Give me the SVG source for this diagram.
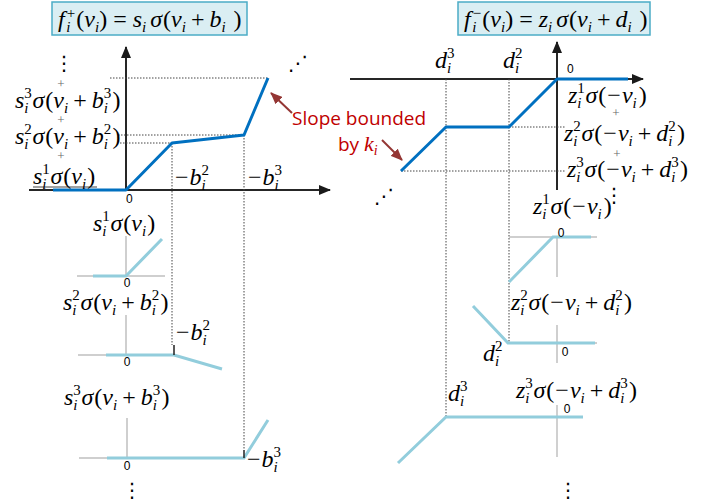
<svg xmlns="http://www.w3.org/2000/svg" width="710" height="504" viewBox="0 0 710 504">
<defs>
<marker id="ax" viewBox="0 0 12 10" refX="11" refY="5" markerWidth="12" markerHeight="10" markerUnits="userSpaceOnUse" orient="auto"><path d="M0,0 L12,5 L0,10 z" fill="#1a1a1a"/></marker>
<marker id="ar" viewBox="0 0 12 10" refX="11" refY="5" markerWidth="12" markerHeight="10" markerUnits="userSpaceOnUse" orient="auto"><path d="M0,0 L12,5 L0,10 z" fill="#943634"/></marker>
<style>
.m{font-family:"Liberation Serif","Times New Roman",serif;font-size:24px;fill:#000}
.i{font-style:italic}
.s{font-size:15px}
.pl{font-family:"Liberation Serif",serif;font-size:13px;fill:#666}
.z{font-family:"Liberation Sans",Arial,sans-serif;font-size:12px;fill:#000}
.dots{font-family:"DejaVu Sans",sans-serif;font-size:20px;fill:#000}
.axis{stroke:#262626;stroke-width:2;fill:none}
.dot{stroke:#444;stroke-width:1;stroke-dasharray:1.5 1.5;fill:none}
.main{stroke:#0070C0;stroke-width:3;fill:none;stroke-linejoin:round}
.lb{stroke:#92CDDC;stroke-width:3;fill:none}
.ga{stroke:#C0C0C0;stroke-width:1.5;fill:none}
.tk{stroke:#222;stroke-width:1.5}
.box{fill:#DAEEF3;stroke:#4BACC6;stroke-width:1.5}
.red{font-family:"Open Sans","Liberation Sans",sans-serif;font-size:19px;fill:#C00000}
.rarr{stroke:#943634;stroke-width:2;fill:none}
</style>
</defs>

<g id="connectors">
<line class="axis" x1="126" y1="190" x2="126" y2="47" marker-end="url(#ax)"/>
<line class="axis" x1="29" y1="190" x2="330" y2="190" marker-end="url(#ax)"/>
<line class="axis" x1="557" y1="190" x2="557" y2="42" marker-end="url(#ax)"/>
<line class="axis" x1="350" y1="79" x2="643" y2="79" marker-end="url(#ax)"/>
<path class="dot" d="M110,78 H268 M118,135 H244 M120,143 H172 M172,143 V345 M244,135 V450"/>
<path class="dot" d="M509,127 H566 M401,171 H566 M446,79 V417 M509,79 V343"/>
<line class="rarr" x1="292" y1="113" x2="271" y2="93" marker-end="url(#ar)"/>
<line class="rarr" x1="382" y1="140" x2="402" y2="160" marker-end="url(#ar)"/>
<line x1="33" y1="187" x2="97" y2="187" stroke="#444" stroke-width="1"/>
</g>

<g id="title-plus">
<rect class="box" x="52" y="2" width="195" height="33"/>
<text class="m" x="58" y="27" font-size="22"><tspan class="i">f</tspan><tspan class="s" dx="2" dy="-9">+</tspan><tspan class="s i" dx="-9" dy="14">i</tspan><tspan dx="6" dy="-5">(</tspan><tspan class="i">v</tspan><tspan class="s i" dy="5">i</tspan><tspan dy="-5">)</tspan><tspan dx="6">=</tspan><tspan class="i" dx="6">s</tspan><tspan class="s i" dy="5">i</tspan><tspan class="i" dx="4" dy="-5">σ</tspan><tspan dx="1">(</tspan><tspan class="i">v</tspan><tspan class="s i" dy="5">i</tspan><tspan dx="5" dy="-5">+</tspan><tspan class="i" dx="5">b</tspan><tspan class="s i" dy="5">i</tspan><tspan dx="8" dy="-5">)</tspan></text>
</g>

<g id="title-minus">
<rect class="box" x="458" y="2" width="192" height="33"/>
<text class="m" x="464" y="27" font-size="22"><tspan class="i">f</tspan><tspan class="s" dx="2" dy="-9">−</tspan><tspan class="s i" dx="-9" dy="14">i</tspan><tspan dx="6" dy="-5">(</tspan><tspan class="i">v</tspan><tspan class="s i" dy="5">i</tspan><tspan dy="-5">)</tspan><tspan dx="6">=</tspan><tspan class="i" dx="6">z</tspan><tspan class="s i" dy="5">i</tspan><tspan class="i" dx="4" dy="-5">σ</tspan><tspan dx="1">(</tspan><tspan class="i">v</tspan><tspan class="s i" dy="5">i</tspan><tspan dx="5" dy="-5">+</tspan><tspan class="i" dx="5">d</tspan><tspan class="s i" dy="5">i</tspan><tspan dx="8" dy="-5">)</tspan></text>
</g>

<g id="plot-plus">
<path class="main" d="M53,190 L126,190 L172,143 L244,135 L268,78"/>
<text class="z" x="126" y="203">0</text>
<text class="dots" x="54" y="70">⋮</text>
<text class="dots" x="288" y="70">⋰</text>
<text class="pl" x="61" y="88" text-anchor="middle">+</text>
<text class="pl" x="61" y="124" text-anchor="middle">+</text>
<text class="pl" x="61" y="160" text-anchor="middle">+</text>
<text class="m" x="15" y="108"><tspan class="i">s</tspan><tspan class="s" dy="-10">3</tspan><tspan class="s i" dx="-7.5" dy="15">i</tspan><tspan class="i" dx="4" dy="-5">σ</tspan><tspan dx="1">(</tspan><tspan class="i">v</tspan><tspan class="s i" dy="5">i</tspan><tspan dx="5" dy="-5">+</tspan><tspan class="i" dx="5">b</tspan><tspan class="s" dy="-10">3</tspan><tspan class="s i" dx="-7.5" dy="15">i</tspan><tspan dx="4.5" dy="-5">)</tspan></text>
<text class="m" x="15" y="144"><tspan class="i">s</tspan><tspan class="s" dy="-10">2</tspan><tspan class="s i" dx="-7.5" dy="15">i</tspan><tspan class="i" dx="4" dy="-5">σ</tspan><tspan dx="1">(</tspan><tspan class="i">v</tspan><tspan class="s i" dy="5">i</tspan><tspan dx="5" dy="-5">+</tspan><tspan class="i" dx="5">b</tspan><tspan class="s" dy="-10">2</tspan><tspan class="s i" dx="-7.5" dy="15">i</tspan><tspan dx="4.5" dy="-5">)</tspan></text>
<text class="m" x="33" y="184"><tspan class="i">s</tspan><tspan class="s" dy="-10">1</tspan><tspan class="s i" dx="-7.5" dy="15">i</tspan><tspan class="i" dx="4" dy="-5">σ</tspan><tspan dx="1">(</tspan><tspan class="i">v</tspan><tspan class="s i" dy="5">i</tspan><tspan dx="1" dy="-5">)</tspan></text>
<text class="m" x="175" y="185">−<tspan class="i" dx="1">b</tspan><tspan class="s" dy="-10">2</tspan><tspan class="s i" dx="-7.5" dy="15">i</tspan></text>
<text class="m" x="248" y="185">−<tspan class="i" dx="1">b</tspan><tspan class="s" dy="-10">3</tspan><tspan class="s i" dx="-7.5" dy="15">i</tspan></text>
</g>

<g id="plot-minus">
<path class="main" d="M401,171 L446,127 L509,127 L557,79 L628,79"/>
<text class="z" x="567" y="73">0</text>
<text class="dots" x="374" y="203">⋰</text>
<text class="dots" x="604" y="202">⋮</text>
<text class="m" x="435" y="68"><tspan class="i">d</tspan><tspan class="s" dy="-10">3</tspan><tspan class="s i" dx="-7.5" dy="15">i</tspan></text>
<text class="m" x="503" y="68"><tspan class="i">d</tspan><tspan class="s" dy="-10">2</tspan><tspan class="s i" dx="-7.5" dy="15">i</tspan></text>
<text class="pl" x="616" y="117" text-anchor="middle">+</text>
<text class="pl" x="617" y="158" text-anchor="middle">+</text>
<text class="m" x="568" y="103"><tspan class="i">z</tspan><tspan class="s" dy="-10">1</tspan><tspan class="s i" dx="-7.5" dy="15">i</tspan><tspan class="i" dx="4" dy="-5">σ</tspan><tspan dx="1">(</tspan><tspan dx="1">−</tspan><tspan class="i" dx="1">v</tspan><tspan class="s i" dy="5">i</tspan><tspan dx="2" dy="-5">)</tspan></text>
<text class="m" x="564" y="141"><tspan class="i">z</tspan><tspan class="s" dy="-10">2</tspan><tspan class="s i" dx="-7.5" dy="15">i</tspan><tspan class="i" dx="4" dy="-5">σ</tspan><tspan dx="1">(</tspan><tspan dx="1">−</tspan><tspan class="i" dx="1">v</tspan><tspan class="s i" dy="5">i</tspan><tspan dx="5" dy="-5">+</tspan><tspan class="i" dx="5">d</tspan><tspan class="s" dy="-10">2</tspan><tspan class="s i" dx="-7.5" dy="15">i</tspan><tspan dx="4.5" dy="-5">)</tspan></text>
<text class="m" x="567" y="177"><tspan class="i">z</tspan><tspan class="s" dy="-10">3</tspan><tspan class="s i" dx="-7.5" dy="15">i</tspan><tspan class="i" dx="4" dy="-5">σ</tspan><tspan dx="1">(</tspan><tspan dx="1">−</tspan><tspan class="i" dx="1">v</tspan><tspan class="s i" dy="5">i</tspan><tspan dx="5" dy="-5">+</tspan><tspan class="i" dx="5">d</tspan><tspan class="s" dy="-10">3</tspan><tspan class="s i" dx="-7.5" dy="15">i</tspan><tspan dx="4.5" dy="-5">)</tspan></text>
</g>

<g id="slope-label">
<text class="red" x="292" y="125">Slope bounded</text>
<text class="red" x="338" y="151">by <tspan font-family="Liberation Serif, serif" font-style="italic" font-size="22">k</tspan><tspan font-family="Liberation Serif, serif" font-style="italic" font-size="14" dy="4">i</tspan></text>
</g>

<g id="sub-s1">
<path class="ga" d="M126,236 V276 M77,276 H165"/>
<path class="lb" d="M93,276 L126,276 L162,239"/>
<text class="z" x="127" y="287" text-anchor="middle" font-size="11">0</text>
<text class="m" x="93" y="231"><tspan class="i">s</tspan><tspan class="s" dy="-10">1</tspan><tspan class="s i" dx="-7.5" dy="15">i</tspan><tspan class="i" dx="4" dy="-5">σ</tspan><tspan dx="1">(</tspan><tspan class="i">v</tspan><tspan class="s i" dy="5">i</tspan><tspan dx="1" dy="-5">)</tspan></text>
</g>

<g id="sub-s2">
<path class="ga" d="M126,315 V355 M78,355 H174"/>
<path class="lb" d="M106,355 L174,355 L222,369"/>
<line class="tk" x1="174" y1="345" x2="174" y2="355"/>
<text class="z" x="127" y="366" text-anchor="middle" font-size="11">0</text>
<text class="m" x="63" y="310"><tspan class="i">s</tspan><tspan class="s" dy="-10">2</tspan><tspan class="s i" dx="-7.5" dy="15">i</tspan><tspan class="i" dx="4" dy="-5">σ</tspan><tspan dx="1">(</tspan><tspan class="i">v</tspan><tspan class="s i" dy="5">i</tspan><tspan dx="5" dy="-5">+</tspan><tspan class="i" dx="5">b</tspan><tspan class="s" dy="-10">2</tspan><tspan class="s i" dx="-7.5" dy="15">i</tspan><tspan dx="4.5" dy="-5">)</tspan></text>
<text class="m" x="176" y="340">−<tspan class="i" dx="1">b</tspan><tspan class="s" dy="-10">2</tspan><tspan class="s i" dx="-7.5" dy="15">i</tspan></text>
</g>

<g id="sub-s3">
<path class="ga" d="M127,418 V458 M79,458 H244"/>
<path class="lb" d="M107,458 L244,458 L268,420"/>
<line class="tk" x1="244" y1="450" x2="244" y2="458"/>
<text class="z" x="127" y="470" text-anchor="middle" font-size="11">0</text>
<text class="dots" x="122" y="497">⋮</text>
<text class="m" x="64" y="405"><tspan class="i">s</tspan><tspan class="s" dy="-10">3</tspan><tspan class="s i" dx="-7.5" dy="15">i</tspan><tspan class="i" dx="4" dy="-5">σ</tspan><tspan dx="1">(</tspan><tspan class="i">v</tspan><tspan class="s i" dy="5">i</tspan><tspan dx="5" dy="-5">+</tspan><tspan class="i" dx="5">b</tspan><tspan class="s" dy="-10">3</tspan><tspan class="s i" dx="-7.5" dy="15">i</tspan><tspan dx="4.5" dy="-5">)</tspan></text>
<text class="m" x="247" y="467">−<tspan class="i" dx="1">b</tspan><tspan class="s" dy="-10">3</tspan><tspan class="s i" dx="-7.5" dy="15">i</tspan></text>
</g>

<g id="sub-z1">
<path class="ga" d="M509,237 H597 M557,237 V277"/>
<path class="lb" d="M509,282 L553,237 L591,237"/>
<text class="z" x="561" y="237" text-anchor="middle" font-size="11">0</text>
<text class="m" x="533" y="214"><tspan class="i">z</tspan><tspan class="s" dy="-10">1</tspan><tspan class="s i" dx="-7.5" dy="15">i</tspan><tspan class="i" dx="4" dy="-5">σ</tspan><tspan dx="1">(</tspan><tspan dx="1">−</tspan><tspan class="i" dx="1">v</tspan><tspan class="s i" dy="5">i</tspan><tspan dx="2" dy="-5">)</tspan></text>
</g>

<g id="sub-z2">
<path class="ga" d="M557,325 V363 M509,343 H597"/>
<path class="lb" d="M473,306 L508,343 L595,343"/>
<text class="z" x="565" y="356" text-anchor="middle" font-size="11">0</text>
<text class="m" x="511" y="310"><tspan class="i">z</tspan><tspan class="s" dy="-10">2</tspan><tspan class="s i" dx="-7.5" dy="15">i</tspan><tspan class="i" dx="4" dy="-5">σ</tspan><tspan dx="1">(</tspan><tspan dx="1">−</tspan><tspan class="i" dx="1">v</tspan><tspan class="s i" dy="5">i</tspan><tspan dx="5" dy="-5">+</tspan><tspan class="i" dx="5">d</tspan><tspan class="s" dy="-10">2</tspan><tspan class="s i" dx="-7.5" dy="15">i</tspan><tspan dx="4.5" dy="-5">)</tspan></text>
<text class="m" x="483" y="361"><tspan class="i">d</tspan><tspan class="s" dy="-10">2</tspan><tspan class="s i" dx="-7.5" dy="15">i</tspan></text>
</g>

<g id="sub-z3">
<path class="ga" d="M557,405 V457"/>
<path class="lb" d="M398,463 L446,417 L583,417"/>
<text class="z" x="567" y="413" text-anchor="middle" font-size="11">0</text>
<text class="dots" x="558" y="497">⋮</text>
<text class="m" x="516" y="398"><tspan class="i">z</tspan><tspan class="s" dy="-10">3</tspan><tspan class="s i" dx="-7.5" dy="15">i</tspan><tspan class="i" dx="4" dy="-5">σ</tspan><tspan dx="1">(</tspan><tspan dx="1">−</tspan><tspan class="i" dx="1">v</tspan><tspan class="s i" dy="5">i</tspan><tspan dx="5" dy="-5">+</tspan><tspan class="i" dx="5">d</tspan><tspan class="s" dy="-10">3</tspan><tspan class="s i" dx="-7.5" dy="15">i</tspan><tspan dx="4.5" dy="-5">)</tspan></text>
<text class="m" x="448" y="401"><tspan class="i">d</tspan><tspan class="s" dy="-10">3</tspan><tspan class="s i" dx="-7.5" dy="15">i</tspan></text>
</g>
</svg>
